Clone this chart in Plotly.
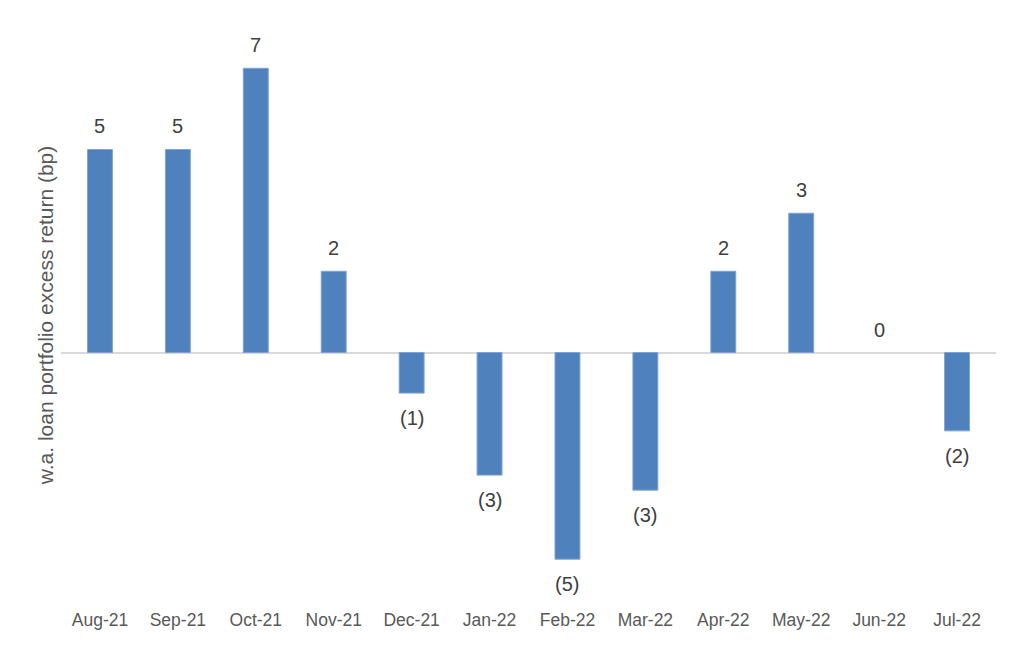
import plotly.graph_objects as go

months = ["Aug-21", "Sep-21", "Oct-21", "Nov-21", "Dec-21", "Jan-22",
          "Feb-22", "Mar-22", "Apr-22", "May-22", "Jun-22", "Jul-22"]
excess_bp = [5.0, 5.0, 7.0, 2.0, -1.0, -3.02, -5.09, -3.39, 2.0, 3.43, 0.0, -1.93]
label_text = ["5", "5", "7", "2", "(1)", "(3)", "(5)", "(3)", "2", "3", "0", "(2)"]

BAR = "#4f81bd"
FONT = "Liberation Sans, Arial, sans-serif"

fig = go.Figure()
fig.add_trace(go.Bar(
    x=months, y=excess_bp,
    marker=dict(color=BAR,
                line=dict(color="#7fa3d2",
                          width=[1 if v != 0 else 0 for v in excess_bp])),
    hoverinfo="x+y",
))

for m, v, t in zip(months, excess_bp, label_text):
    fig.add_annotation(
        x=m, y=v, text=t, showarrow=False,
        yanchor="middle", yshift=23 if v >= 0 else -25,
        font=dict(family=FONT, size=20, color="#404040"),
    )

fig.update_layout(
    width=1016, height=637,
    margin=dict(l=53, r=28, t=22, b=45),
    paper_bgcolor="white", plot_bgcolor="white",
    bargap=0.68,
    showlegend=False,
    font=dict(family=FONT),
    xaxis=dict(
        showgrid=False, showline=False, ticks="",
        tickfont=dict(family=FONT, size=17.5, color="#595959"),
        ticklabelstandoff=7,
    ),
    yaxis=dict(
        range=[-6.096, 7.943],
        showgrid=False, showticklabels=False, ticks="", showline=False,
        zeroline=True, zerolinecolor="#d9d9d9", zerolinewidth=2,
        title=dict(text="w.a. loan portfolio excess return (bp)",
                   font=dict(family=FONT, size=21, color="#595959"),
                   standoff=0),
    ),
)

fig.write_html("out.html")
